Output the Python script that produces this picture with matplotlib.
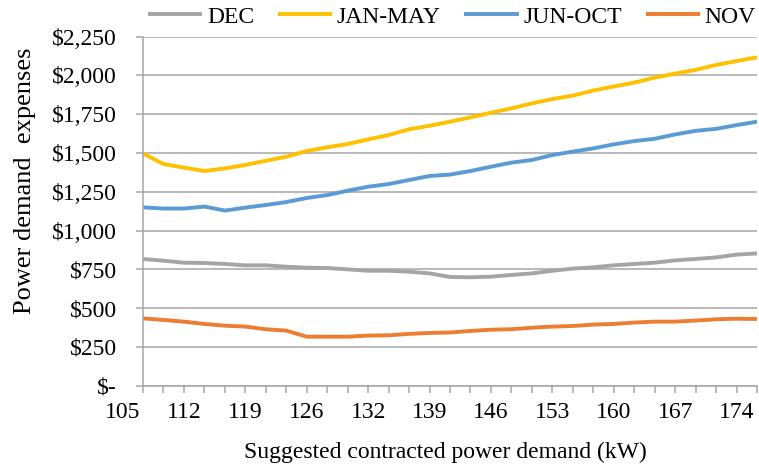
import matplotlib
matplotlib.use('Agg')
import matplotlib.pyplot as plt

# data, one value per tick on the x axis (31 points)
series_names = ['DEC', 'JAN-MAY', 'JUN-OCT', 'NOV']
series_colors = ['#A5A5A5', '#FFC000', '#5B9BD5', '#ED7D31']

dec = [817, 806, 793, 791, 785, 776, 776, 767, 761, 759, 750, 741, 741, 735, 724,
       701, 699, 703, 714, 724, 741, 755, 763, 776, 785, 793, 808, 817, 827, 845, 853]
jan_may = [1497, 1429, 1406, 1384, 1401, 1423, 1450, 1476, 1513, 1537, 1558, 1588,
           1616, 1653, 1676, 1702, 1730, 1760, 1788, 1820, 1848, 1870, 1903, 1929,
           1954, 1986, 2012, 2036, 2068, 2093, 2117]
jun_oct = [1150, 1142, 1142, 1155, 1129, 1148, 1165, 1184, 1210, 1229, 1257, 1283,
           1300, 1326, 1352, 1361, 1384, 1412, 1438, 1455, 1487, 1509, 1530, 1556,
           1577, 1592, 1620, 1643, 1656, 1680, 1702]
nov = [434, 424, 413, 398, 387, 381, 364, 355, 316, 316, 316, 323, 325, 334, 340,
       343, 353, 361, 364, 374, 381, 385, 394, 398, 407, 413, 413, 420, 428, 432, 430]

x_labels = ['105', '112', '119', '126', '132', '139', '146', '153', '160', '167', '174']
y_ticks = [0, 250, 500, 750, 1000, 1250, 1500, 1750, 2000, 2250]
y_labels = ['$-', '$250', '$500', '$750', '$1,000', '$1,250', '$1,500', '$1,750',
            '$2,000', '$2,250']

plt.rcParams['font.family'] = ['Liberation Serif', 'DejaVu Serif']

fig = plt.figure(figsize=(7.59, 4.67), dpi=100)
ax = fig.add_axes([143 / 759, 1 - 385.7 / 467, 614 / 759, (385.7 - 36.7) / 467])

n = len(dec)
xs = list(range(n))
for name, vals, col in zip(series_names, [dec, jan_may, jun_oct, nov], series_colors):
    ax.plot(xs, vals, color=col, lw=2.8, label=name, solid_capstyle='butt')

ax.set_xlim(0, n - 1)
ax.set_ylim(0, 2250)

grid_col = '#A6A6A6'
ax.set_yticks(y_ticks)
ax.set_yticklabels(y_labels)
ax.yaxis.grid(True, color=grid_col, lw=1.1)
ax.set_axisbelow(True)
for s in ['top', 'right']:
    ax.spines[s].set_visible(False)
for s in ['left', 'bottom']:
    ax.spines[s].set_color(grid_col)
    ax.spines[s].set_linewidth(1.1)

ax.tick_params(axis='y', length=5, width=1.1, color=grid_col, pad=14, labelsize=17)
# tick marks at every point, labels every third point (first label sits left of the axis)
ax.set_xticks(xs)
ax.set_xticklabels([])
ax.tick_params(axis='x', length=5, width=1.1, color=grid_col)
trans = ax.get_xaxis_transform()
for i, lab in enumerate(x_labels):
    ax.text(-1 + 3 * i, -0.047, lab, transform=trans, ha='center', va='top',
            fontsize=17, clip_on=False)

fig.text(25 / 759, 1 - 181 / 467, 'Power demand  expenses', rotation=90,
         ha='center', va='center', fontsize=19)
fig.text(445 / 759, 1 - 452 / 467, 'Suggested contracted power demand (kW)',
         ha='center', va='center', fontsize=17)

fig.legend(loc='center', bbox_to_anchor=(452 / 759, 1 - 17 / 467), ncol=4,
           frameon=False, fontsize=17, handlelength=2.3, handletextpad=0.2,
           columnspacing=1.0)

fig.savefig('out.png', dpi=100)
